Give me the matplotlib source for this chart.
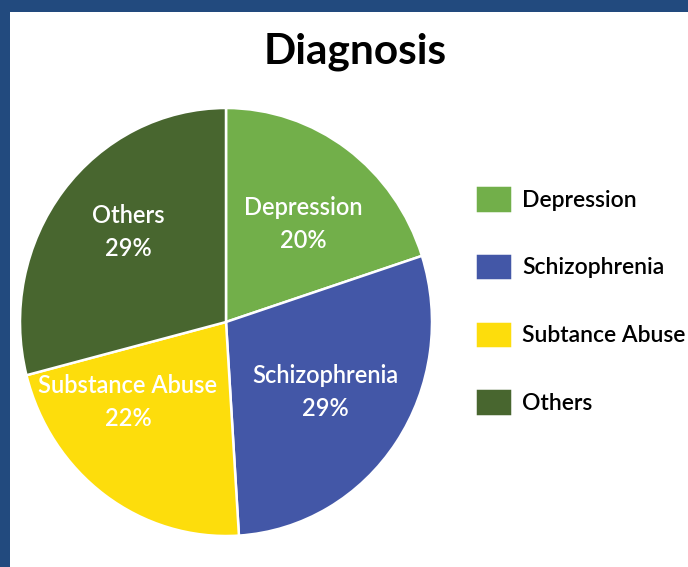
import matplotlib
matplotlib.use("Agg")
import matplotlib.pyplot as plt
from matplotlib.patches import Rectangle

categories = ["Depression", "Schizophrenia", "Substance Abuse", "Others"]
legend_labels = ["Depression", "Schizophrenia", "Subtance Abuse", "Others"]
values = [20, 29, 22, 29]
colors = ["#72AF4A", "#4357A7", "#FDDD0C", "#48662F"]
title = "Diagnosis"

plt.rcParams['font.family'] = ['Lato', 'DejaVu Sans']

W, H = 688, 567
fig = plt.figure(figsize=(W / 100, H / 100), dpi=100)
fig.patch.set_facecolor("#224A7E")
fig.patches.append(Rectangle((10 / W, 0), 1 - 10 / W, 1 - 12 / H, transform=fig.transFigure,
                             facecolor="white", edgecolor="none", zorder=-10))

cx, cy, rx, ry = 226, 322, 206, 214
ax = fig.add_axes([(cx - rx) / W, (H - cy - ry) / H, 2 * rx / W, 2 * ry / H])
ax.patch.set_visible(False)
wedges, _ = ax.pie(values, colors=colors, startangle=90, counterclock=False,
                   radius=1, wedgeprops=dict(edgecolor="white", linewidth=1.8))
ax.set_xlim(-1, 1)
ax.set_ylim(-1, 1)
ax.set_aspect('auto')
ax.axis('off')

label_pos = [(303, 224), (325, 392), (128, 402), (128, 232)]
for (px, py), name, v in zip(label_pos, categories, values):
    fig.text(px / W, 1 - py / H, f"{name}\n{v}%", ha="center", va="center",
             color="white", fontsize=17, fontweight="semibold", linespacing=1.55)

fig.text(355 / W, 1 - 52 / H, title, ha="center", va="center", fontsize=30.5,
         fontweight="bold", color="black")

fig.legend(wedges, legend_labels, loc="upper left", bbox_to_anchor=(457 / W, 1 - 167 / H),
           frameon=False, fontsize=16.5, handlelength=1.6, handleheight=1.47,
           handletextpad=0.45, labelspacing=1.75, borderpad=0.3,
           prop=dict(family=['Lato', 'DejaVu Sans'], weight='semibold', size=16.5))

fig.savefig("out.png", dpi=100)
